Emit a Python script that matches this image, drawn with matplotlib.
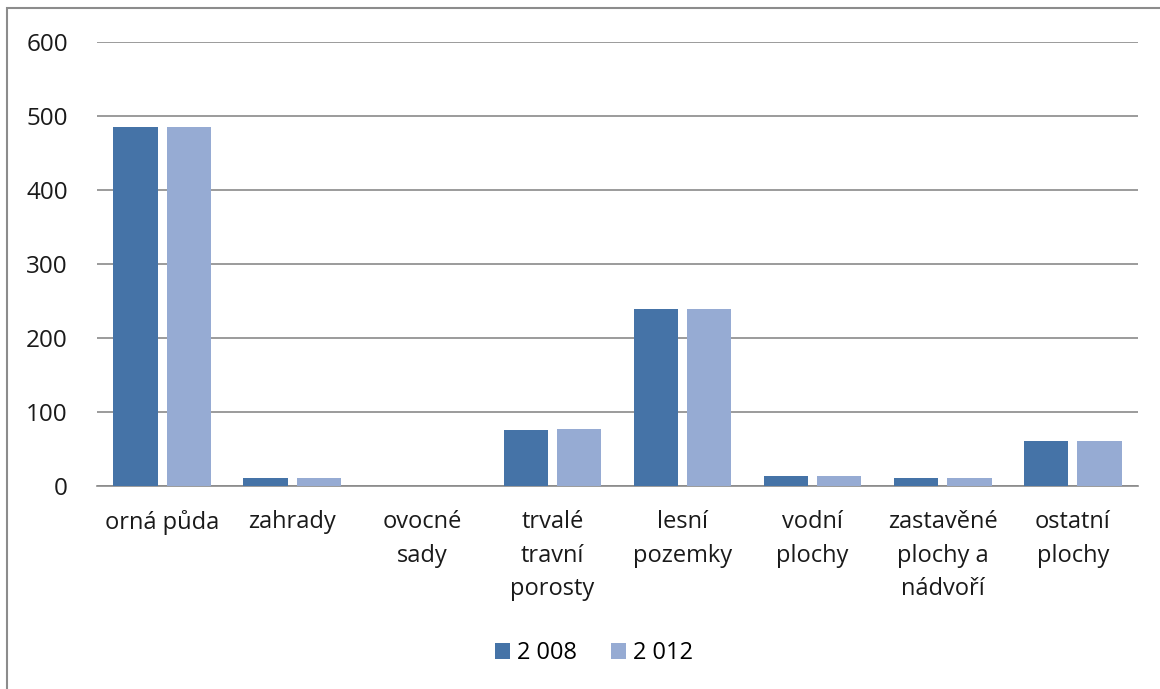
import numpy as np
import matplotlib.pyplot as plt
from matplotlib.patches import Rectangle

categories = ["orná půda", "zahrady", "ovocné\nsady", "trvalé\ntravní\nporosty",
              "lesní\npozemky", "vodní\nplochy", "zastavěné\nplochy a\nnádvoří",
              "ostatní\nplochy"]
values_2008 = [485, 11, 0, 76, 239, 13, 11, 61]
values_2012 = [485, 11, 0, 77, 239, 13, 11, 61]
series_labels = ["2 008", "2 012"]
y_ticks = [0, 100, 200, 300, 400, 500, 600]

plt.rcParams['font.family'] = ['Open Sans', 'DejaVu Sans']
fs = 17

fig = plt.figure(figsize=(11.6, 6.89), dpi=100)
ax = fig.add_axes([97 / 1160, 1 - 486 / 689, (1138 - 97) / 1160, (486 - 42) / 689])

# chart frame, only left and top edges fall inside the canvas
fig.patches.append(Rectangle((7 / 1160, -0.1), 1.2, 1 - 8 / 689 + 0.1,
                             transform=fig.transFigure, fill=False,
                             edgecolor="#8c8c8c", linewidth=1.5))

x = np.arange(len(categories))
w = 0.34
ax.bar(x - 0.205, values_2008, w, color="#4573a7", label=series_labels[0], zorder=3)
ax.bar(x + 0.205, values_2012, w, color="#96abd3", label=series_labels[1], zorder=3)

ax.set_xlim(-0.5, len(categories) - 0.5)
ax.set_ylim(0, 600)
ax.set_yticks(y_ticks)
ax.set_yticklabels([str(v) for v in y_ticks], fontsize=fs + 0.5, color="#1a1a1a")
ax.yaxis.grid(True, color="#8a8a8a", linewidth=1.2, zorder=0)
ax.set_xticks(x)
ax.set_xticklabels(categories, fontsize=fs, color="#1a1a1a", linespacing=1.55, va="top")
ax.tick_params(axis="both", length=0)
ax.tick_params(axis="y", pad=21)
ax.tick_params(axis="x", pad=17)
for side in ("top", "right", "left"):
    ax.spines[side].set_visible(False)
ax.spines["bottom"].set_color("#8a8a8a")
ax.spines["bottom"].set_linewidth(1.2)

fig.legend(loc="center", bbox_to_anchor=(594 / 1160, 1 - 653 / 689), ncol=2,
           frameon=False, fontsize=fs, handlelength=0.65, handleheight=0.65,
           handletextpad=0.3, columnspacing=1.4)

fig.savefig("out.png", dpi=100, facecolor="white")
